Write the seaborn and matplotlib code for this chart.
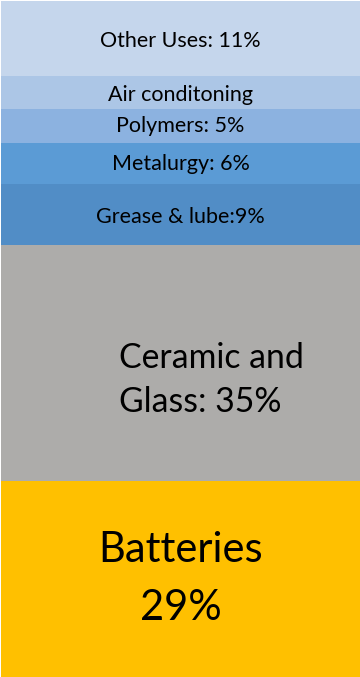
import matplotlib
matplotlib.use("Agg")
import matplotlib.pyplot as plt
import seaborn as sns
import pandas as pd
import numpy as np

# Lithium end-use shares, stacked bottom to top
segments = ["Batteries", "Ceramic and Glass", "Grease & lube", "Metalurgy",
            "Polymers", "Air conditoning", "Other Uses"]
shares = [29, 35, 9, 6, 5, 5, 11]
labels = ["Batteries\n29%", "Ceramic and\nGlass: 35%", "Grease & lube:9%",
          "Metalurgy: 6%", "Polymers: 5%", "Air conditoning", "Other Uses: 11%"]
colors = ["#FFC000", "#ADACAA", "#518DC6", "#5B9BD5",
          "#8CB2E0", "#ACC6E6", "#C5D6EC"]

sns.set_theme(style="white")
plt.rcParams["font.family"] = ["Lato", "DejaVu Sans"]

fig = plt.figure(figsize=(3.6, 6.77), dpi=100)
ax = fig.add_axes([0.003, 0.0, 0.997, 0.998])

tops = np.cumsum(shares)
df = pd.DataFrame({"group": ["use"] * len(segments), "segment": segments,
                   "share": shares, "top": tops})

# Overlay cumulative bars from tallest to shortest to build the stack
for i in range(len(segments) - 1, -1, -1):
    sns.barplot(data=df.iloc[[i]], x="group", y="top", color=colors[i],
                width=1.0, saturation=1, edgecolor="none", ax=ax)

font_sizes = [30, 24.3, 15.5, 15.5, 15.5, 15.5, 15.5]
x_pos = [0.0, -0.171, 0.0, 0.0, 0.0, 0.0, 0.0]
ha = ["center", "left", "center", "center", "center", "center", "center"]
y_shift = [0.0, -2.5, -0.4, 0.0, 0.0, -0.4, -0.3]
spacing = [1.62, 1.45, 1.0, 1.0, 1.0, 1.0, 1.0]
for i, lab in enumerate(labels):
    mid = tops[i] - shares[i] / 2 + y_shift[i]
    ax.text(x_pos[i], mid, lab, ha=ha[i], va="center", fontsize=font_sizes[i],
            color="black", linespacing=spacing[i],
            multialignment="center" if i == 0 else "left")

ax.set_xlim(-0.5, 0.5)
ax.set_ylim(0, 100)
ax.set_axis_off()
fig.savefig("out.png", dpi=100)
